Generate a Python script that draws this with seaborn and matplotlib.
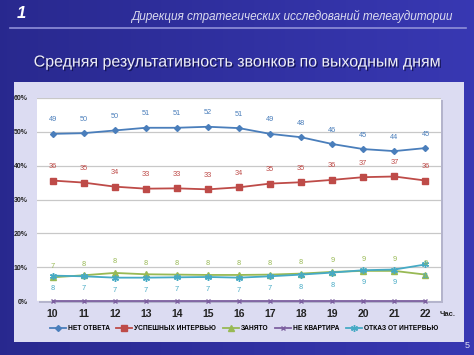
import numpy as np
import pandas as pd
import matplotlib
matplotlib.use("Agg")
import matplotlib.pyplot as plt
import matplotlib.patheffects as pe
from matplotlib.patches import Rectangle
import seaborn as sns

hours = [10, 11, 12, 13, 14, 15, 16, 17, 18, 19, 20, 21, 22]
no_answer = [49.4, 49.6, 50.4, 51.2, 51.2, 51.5, 51.1, 49.4, 48.4, 46.4, 44.9, 44.3, 45.2]
success = [35.6, 35.0, 33.8, 33.2, 33.3, 33.0, 33.6, 34.7, 35.1, 35.8, 36.6, 36.8, 35.6]
busy = [7.0, 7.6, 8.3, 7.9, 7.8, 7.7, 7.7, 7.8, 8.1, 8.6, 8.9, 8.9, 7.8]
not_flat = [0.1, 0.1, 0.1, 0.1, 0.1, 0.1, 0.1, 0.1, 0.1, 0.1, 0.1, 0.1, 0.1]
refusal = [7.5, 7.3, 6.9, 6.9, 7.0, 7.1, 6.9, 7.3, 7.8, 8.4, 9.1, 9.3, 10.8]
series_names = ["НЕТ ОТВЕТА", "УСПЕШНЫХ ИНТЕРВЬЮ", "ЗАНЯТО", "НЕ КВАРТИРА", "ОТКАЗ ОТ ИНТЕРВЬЮ"]
yticks = [0, 10, 20, 30, 40, 50, 60]

colors = ["#4a7ebb", "#be4b48", "#98b954", "#7d60a0", "#46aac5"]
markers = ["D", "s", "^", "x", (6, 2, 0)]
sizes = [3, 4, 4, 3.5, 5]

values = [no_answer, success, busy, not_flat, refusal]

plt.rcParams["font.family"] = ["Liberation Sans", "DejaVu Sans"]

W, H = 474, 355
fig = plt.figure(figsize=(W / 100, H / 100), dpi=100)

bg = fig.add_axes([0, 0, 1, 1], zorder=-10)
xg = np.linspace(0, 1, 200)
yg = np.linspace(0, 1, 150)
X, Y = np.meshgrid(xg, yg)
r = 0.16 + 0.06 * X
g = 0.16 + 0.06 * X
b = 0.56 + 0.14 * X
img = np.dstack([r, g, b]).clip(0, 1)
bg.imshow(img, extent=[0, W, H, 0], aspect="auto")
bg.set_xlim(0, W)
bg.set_ylim(H, 0)
bg.axis("off")
bg.plot([10, 466], [28, 28], color="#8f8fd8", lw=1.2)
bg.add_patch(Rectangle((14, 82), 450, 260, facecolor="#dcdcf2", edgecolor="none"))
bg.add_patch(Rectangle((39, 100), 404, 203, facecolor="#b4b4cc", edgecolor="none"))
bg.text(21, 13, "1", fontsize=12, fontweight="bold", style="italic", color="white",
        ha="center", va="center")
bg.text(452, 16, "Дирекция стратегических исследований телеаудитории",
        fontsize=8.5, style="italic", color="#dcdcf0", ha="right", va="center")
bg.text(238, 62, "Средняя результативность звонков по выходным дням",
        fontsize=11.5, color="#eeeef6", ha="center", va="center",
        path_effects=[pe.withSimplePatchShadow(offset=(1, -1), shadow_rgbFace="#10104a", alpha=0.8)])
bg.text(467, 345, "5", fontsize=6.5, color="#dcdcf0", ha="center", va="center")
bg.text(448, 315, "Час.", fontsize=5.5, fontweight="bold", color="#222222", ha="center", va="center")

ax = fig.add_axes([37 / W, 1 - 301 / H, 404 / W, 203 / H])
ax.set_facecolor("white")
for name, vals, c, m, s in zip(series_names, values, colors, markers, sizes):
    d = pd.DataFrame({"hour": hours, "value": vals})
    sns.lineplot(data=d, x="hour", y="value", color=c, marker=m, markersize=s,
                 markeredgecolor=c, markerfacecolor=c, markeredgewidth=1,
                 lw=1.3, ax=ax, label=name, clip_on=False)

offsets = [10, 10, 8, -9, -9]
for i, (vals, c, off) in enumerate(zip(values, colors, offsets)):
    if i == 3:
        continue
    for h, v in zip(hours, vals):
        ax.annotate(str(int(round(v))), (h, v), xytext=(0, off), textcoords="offset points",
                    ha="center", va="center", fontsize=5.3, color=c)

ax.set_xlim(9.5, 22.5)
ax.set_ylim(0, 60)
ax.set_yticks(yticks)
ax.set_yticklabels([f"{t}%" for t in yticks], fontsize=5, fontweight="bold", color="#222222")
ax.set_xticks(hours)
ax.set_xticklabels([str(h) for h in hours], fontsize=7.5, fontweight="bold", color="#222222")
ax.tick_params(axis="both", length=0)
ax.tick_params(axis="x", pad=6)
ax.tick_params(axis="y", pad=7)
ax.grid(axis="y", color="#c8c8c8", lw=0.9)
ax.set_axisbelow(True)
for sp in ax.spines.values():
    sp.set_visible(False)
ax.set_xlabel("")
ax.set_ylabel("")

handles, labels = ax.get_legend_handles_labels()
if ax.legend_ is not None:
    ax.legend_.remove()
fig.legend(handles, labels, loc="center", bbox_to_anchor=(244 / W, 1 - 329 / H), ncol=5,
           frameon=False, handlelength=2.4, columnspacing=1.0,
           handletextpad=0.3, prop={"weight": "bold", "size": 4.8})

fig.savefig("out.png", dpi=100)
